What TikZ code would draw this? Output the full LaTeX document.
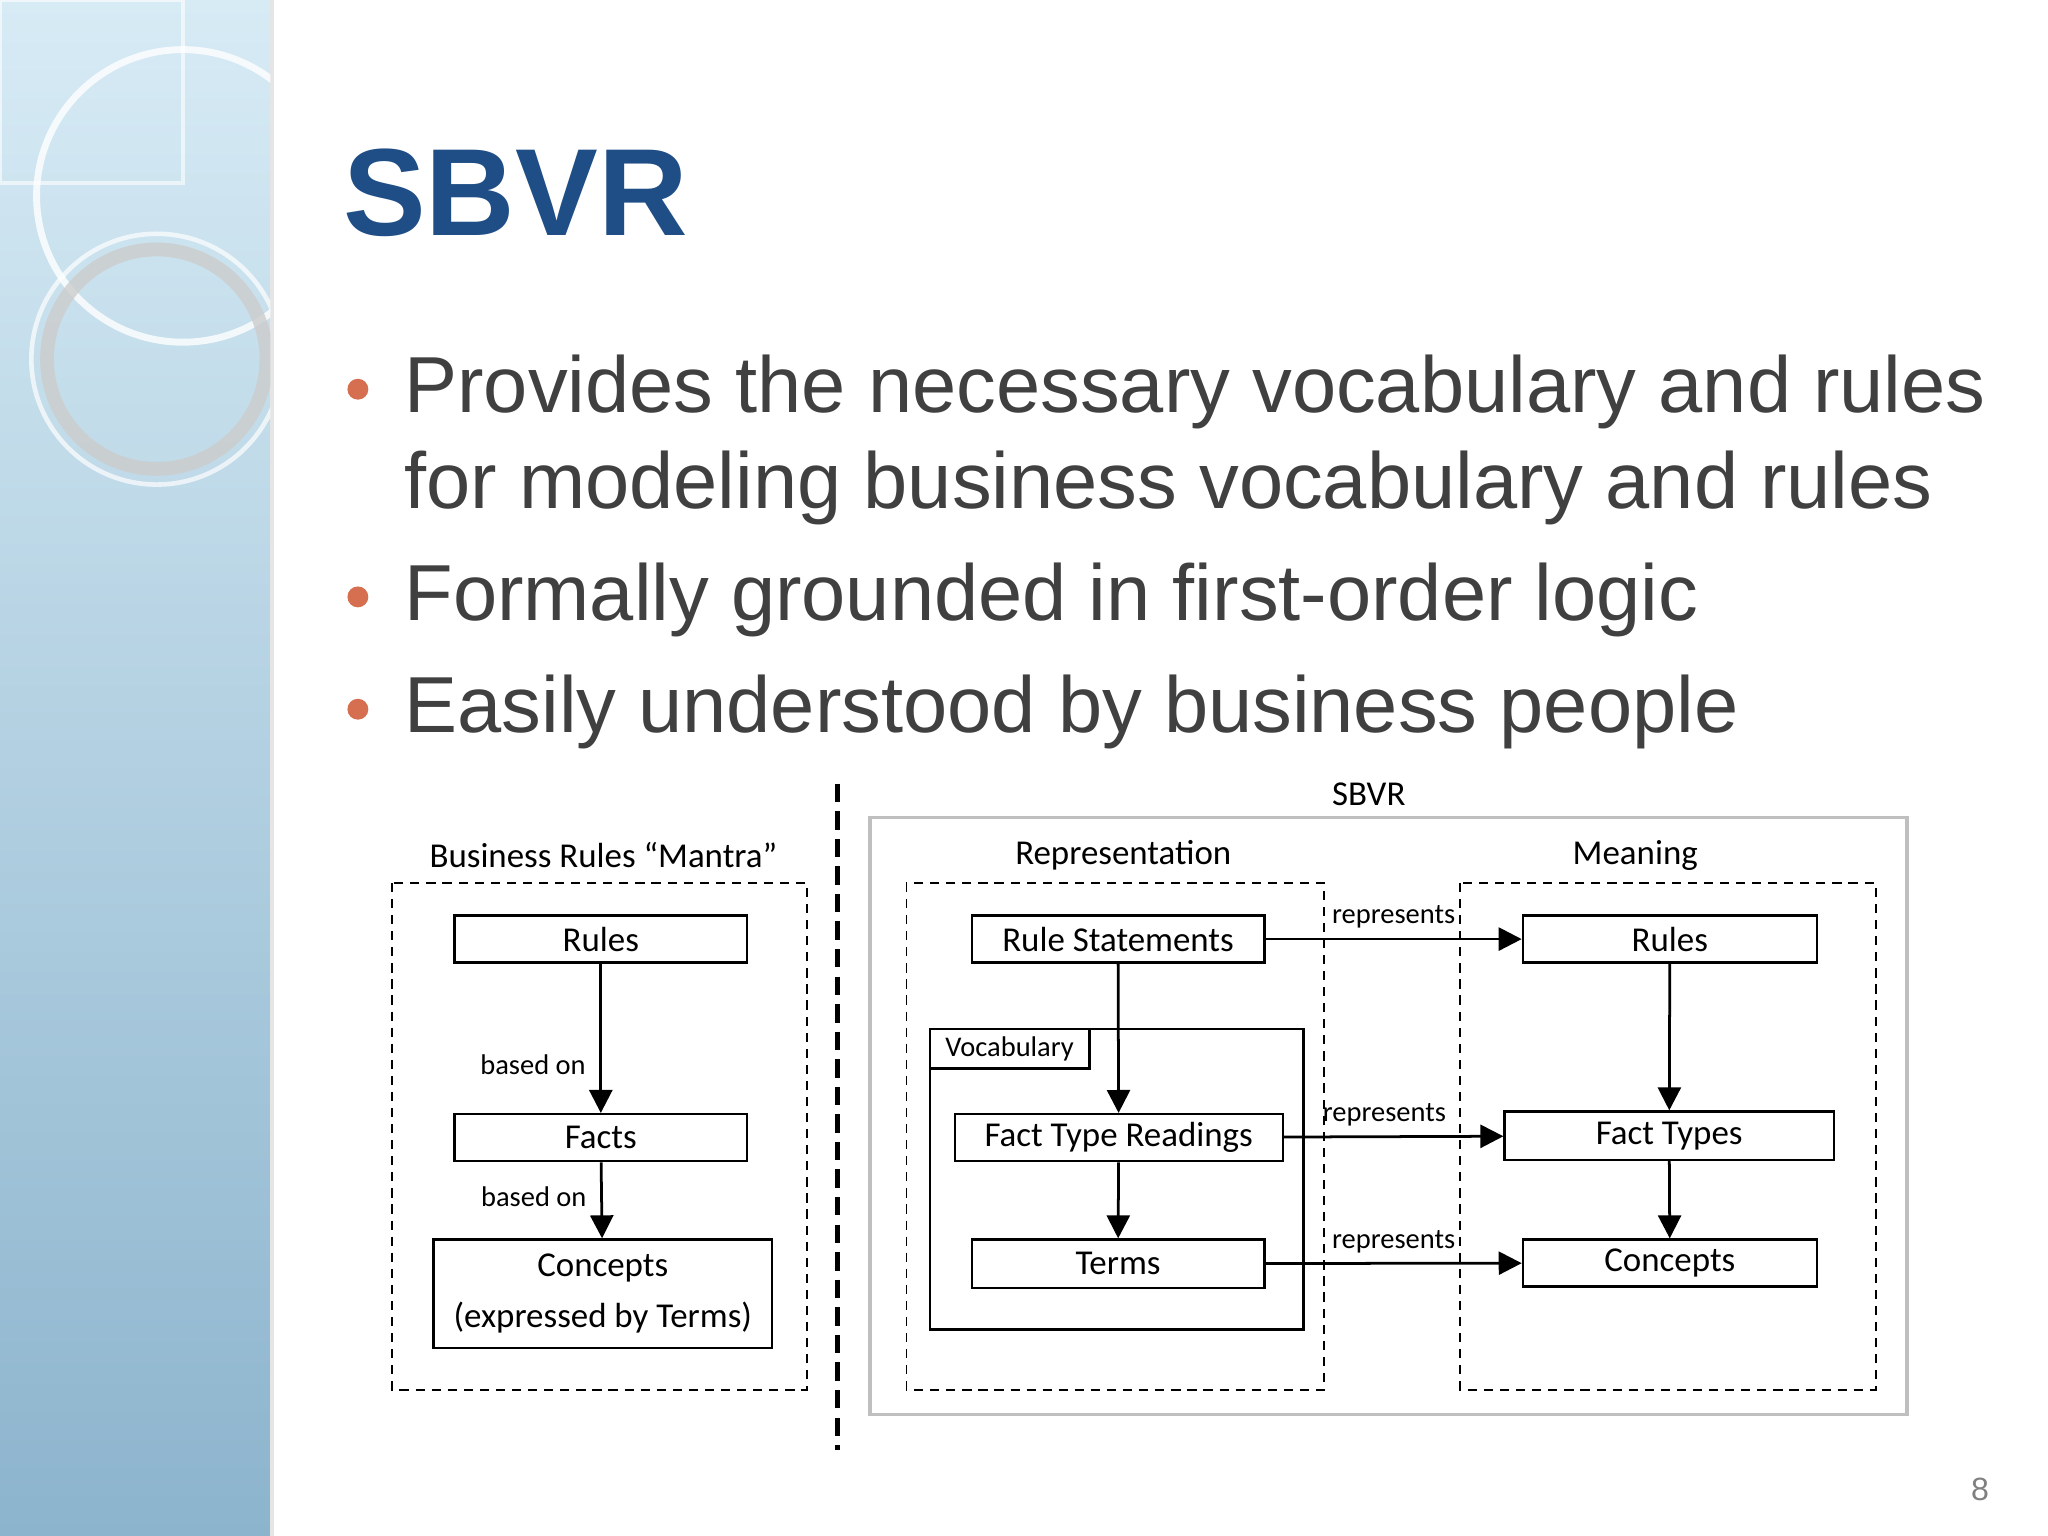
\documentclass[tikz,border=0pt]{standalone}
\usepackage{fontspec}
\setmainfont{Liberation Sans}
\newfontfamily\carl{Carlito}
\usetikzlibrary{arrows.meta,shapes.geometric}
\definecolor{titleblue}{RGB}{31,78,134}
\definecolor{bodygray}{RGB}{64,64,64}
\definecolor{bulletor}{RGB}{214,110,80}
\tikzset{
 bx/.style={draw,line width=0.5pt,inner sep=0pt,font=\carl\fontsize{7.6pt}{9pt}\selectfont,align=center},
 dbox/.style={draw,dash pattern=on 2pt off 1.5pt,line width=0.4pt},
 lab/.style={font=\carl\fontsize{7.6pt}{9pt}\selectfont,inner sep=1pt},
 slab/.style={font=\carl\fontsize{6.2pt}{7pt}\selectfont,inner sep=1pt},
 arr/.style={-{Triangle[length=5pt,width=5pt]},line width=0.6pt},
 bul/.style={anchor=base west,font=\fontsize{17.3pt}{22pt}\selectfont,text=bodygray,inner sep=0pt}
}
\begin{document}
\begin{tikzpicture}[x=0.01cm,y=-0.01cm]
\useasboundingbox (0,0) rectangle (1568,1176);
\fill[white] (0,0) rectangle (1568,1176);
% left strip
\shade[top color={rgb,255:red,215;green,235;blue,245},bottom color={rgb,255:red,140;green,180;blue,205}] (0,0) rectangle (207,1176);
\fill[black!10] (207,0) rectangle (210,1176);
\begin{scope}
\clip (0,0) rectangle (207,1176);
\draw[white,opacity=0.6,line width=1pt] (0,0) rectangle (140,140);
\draw[white,opacity=0.8,line width=1.5pt] (140,150) circle (112);
\draw[gray!40,opacity=0.8,line width=3pt] (120,275) circle (84);
\draw[white,opacity=0.7,line width=1pt] (120,275) circle (96);
\end{scope}
% title
\node[anchor=base west,inner sep=0pt,font=\fontsize{27pt}{30pt}\selectfont\bfseries,text=titleblue] (title) at (262,180) {SBVR};
% bullets
\foreach \y/\n in {298/b1,457/b2,543/b3} \fill[bulletor] (274,\y) circle (8);
\node[bul] (t1) at (309,316) {Provides the necessary vocabulary and rules};
\node[bul] (t1b) at (309,389) {for modeling business vocabulary and rules};
\node[bul] (t2) at (309,475) {Formally grounded in first-order logic};
\node[bul] (t3) at (309,561) {Easily understood by business people};
% left diagram
\draw[dbox] (300,676) rectangle (618,1064);
\node[lab] (bm) at (462,655) {Business Rules “Mantra”};
\node[bx,minimum width=2.24cm,minimum height=0.36cm] (lr) at (460,719) {Rules};
\node[bx,minimum width=2.24cm,minimum height=0.36cm] (lf) at (460,871) {Facts};
\node[bx,minimum width=2.59cm,minimum height=0.83cm,font=\carl\fontsize{7.6pt}{11pt}\selectfont] (lc) at (461.5,990.5) {Concepts\\(expressed by Terms)};
\draw[arr] (lr) -- (lf) node[slab,pos=0.68,left=2pt] {based on};
\draw[arr] (lf) -- (lc) node[slab,pos=0.45,left=2pt] {based on};
% separator
\draw[line width=1.1pt,dash pattern=on 4pt off 2pt] (641,600) -- (641,1110);
% SBVR
\draw[gray!50,line width=0.8pt] (666,626) rectangle (1460,1083);
\node[lab] (sb) at (1048,608) {SBVR};
\draw[dbox] (694,676) rectangle (1014,1064);
\node[lab] (rep) at (860,655) {Representation};
\draw[dbox] (1118,676) rectangle (1436,1064);
\node[lab] (mea) at (1252,655) {Meaning};
\draw[line width=0.5pt] (712,788) rectangle (998,1018);
\node[bx,minimum width=1.22cm,minimum height=0.30cm,font=\carl\fontsize{6.2pt}{7pt}\selectfont] (voc) at (773,803) {Vocabulary};
\node[bx,minimum width=2.24cm,minimum height=0.36cm,fill=white] (rs) at (856,719) {Rule Statements};
\node[bx,minimum width=2.51cm,minimum height=0.36cm,fill=white] (ftr) at (856.5,871) {Fact Type Readings};
\node[bx,minimum width=2.24cm,minimum height=0.37cm,fill=white] (te) at (856,967.5) {Terms};
\node[bx,minimum width=2.25cm,minimum height=0.36cm] (mr) at (1278.5,719) {Rules};
\node[bx,minimum width=2.52cm,minimum height=0.37cm] (ft) at (1278,869.5) {Fact Types};
\node[bx,minimum width=2.25cm,minimum height=0.36cm] (mc) at (1278.5,967) {Concepts};
\draw[arr] (rs) -- (ftr);
\draw[arr] (ftr) -- (te);
\draw[arr] (mr) -- (ft);
\draw[arr] (ft) -- (mc);
\draw[arr] (rs) -- (mr) node[slab,midway,above=1pt] {represents};
\draw[arr] (ftr) -- (ft) node[slab,midway,above=1pt,xshift=-2pt] {represents};
\draw[arr] (te) -- (mc) node[slab,midway,above=1pt] {represents};
% page number
\node[font=\fontsize{7pt}{8pt}\selectfont,text=gray] (pg) at (1516,1140) {8};
\end{tikzpicture}
\end{document}
